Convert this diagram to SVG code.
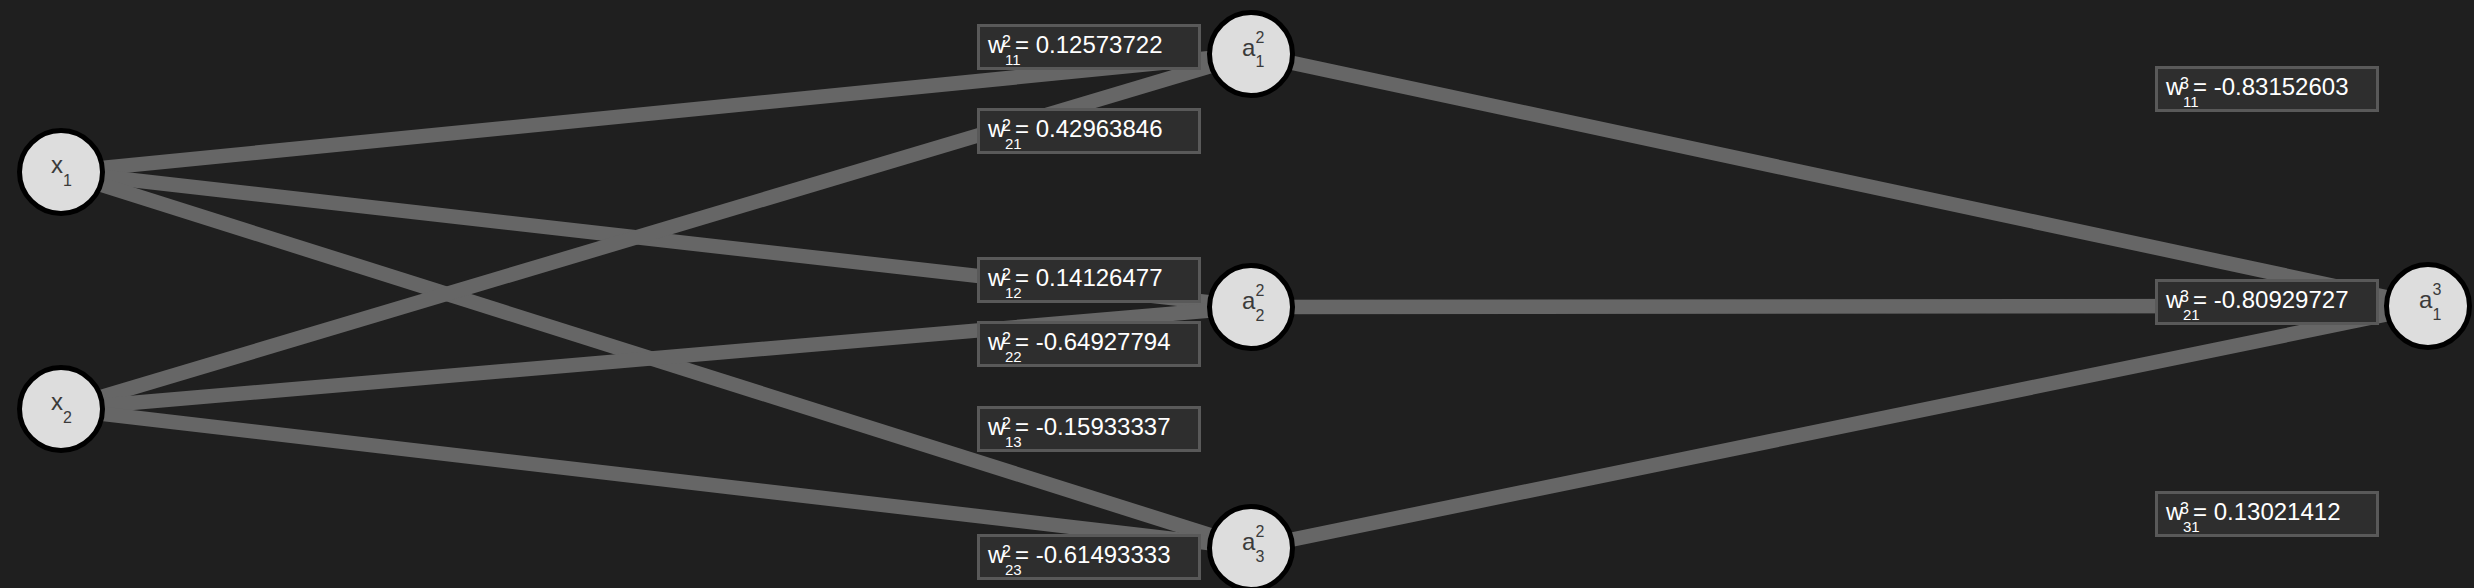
<svg xmlns="http://www.w3.org/2000/svg" width="2474" height="588" viewBox="0 0 2474 588">
<style>
.bg{fill:#1f1f1f}
.edge{stroke:#666666;stroke-width:14.5;fill:none}
.box{fill:#2e2e2e;stroke:#595959;stroke-width:3}
.lbl{font-family:"Liberation Sans",Arial,sans-serif;fill:#ffffff;font-size:24px}
.lbl .s{font-size:16px}
.lbl .b{font-size:15px}
.node{fill:#dddddd;stroke:#000000;stroke-width:5}
.nt{font-family:"Liberation Sans",Arial,sans-serif;fill:#3a3a3a;font-size:24px}
.nt .s{font-size:16px}
</style>
<rect class="bg" x="0" y="0" width="2474" height="588"/>
<g id="connectors">
<line class="edge" x1="61" y1="172" x2="1251" y2="54"/>
<line class="edge" x1="61" y1="172" x2="1251" y2="307"/>
<line class="edge" x1="61" y1="172" x2="1251" y2="548"/>
<line class="edge" x1="61" y1="409" x2="1251" y2="54"/>
<line class="edge" x1="61" y1="409" x2="1251" y2="307"/>
<line class="edge" x1="61" y1="409" x2="1251" y2="548"/>
<line class="edge" x1="1251" y1="54" x2="2428" y2="306"/>
<line class="edge" x1="1251" y1="307" x2="2428" y2="306"/>
<line class="edge" x1="1251" y1="548" x2="2428" y2="306"/>
</g>
<g id="labels">
<g id="w2_11"><rect class="box" x="978.5" y="25.5" width="221" height="43"/><text class="lbl"><tspan x="988" y="53">w</tspan><tspan class="s" x="1002" y="47">2</tspan><tspan class="b" x="1005" y="65">11</tspan><tspan x="1015" y="53">= 0.12573722</tspan></text></g>
<g id="w2_21"><rect class="box" x="978.5" y="109.5" width="221" height="43"/><text class="lbl"><tspan x="988" y="137">w</tspan><tspan class="s" x="1002" y="131">2</tspan><tspan class="b" x="1005" y="149">21</tspan><tspan x="1015" y="137">= 0.42963846</tspan></text></g>
<g id="w2_12"><rect class="box" x="978.5" y="258.5" width="221" height="43"/><text class="lbl"><tspan x="988" y="286">w</tspan><tspan class="s" x="1002" y="280">2</tspan><tspan class="b" x="1005" y="298">12</tspan><tspan x="1015" y="286">= 0.14126477</tspan></text></g>
<g id="w2_22"><rect class="box" x="978.5" y="322.5" width="221" height="43"/><text class="lbl"><tspan x="988" y="350">w</tspan><tspan class="s" x="1002" y="344">2</tspan><tspan class="b" x="1005" y="362">22</tspan><tspan x="1015" y="350">= -0.64927794</tspan></text></g>
<g id="w2_13"><rect class="box" x="978.5" y="407.5" width="221" height="43"/><text class="lbl"><tspan x="988" y="435">w</tspan><tspan class="s" x="1002" y="429">2</tspan><tspan class="b" x="1005" y="447">13</tspan><tspan x="1015" y="435">= -0.15933337</tspan></text></g>
<g id="w2_23"><rect class="box" x="978.5" y="535.5" width="221" height="43"/><text class="lbl"><tspan x="988" y="563">w</tspan><tspan class="s" x="1002" y="557">2</tspan><tspan class="b" x="1005" y="575">23</tspan><tspan x="1015" y="563">= -0.61493333</tspan></text></g>
<g id="w3_11"><rect class="box" x="2156.5" y="67.5" width="221" height="43"/><text class="lbl"><tspan x="2166" y="95">w</tspan><tspan class="s" x="2180" y="89">3</tspan><tspan class="b" x="2183" y="107">11</tspan><tspan x="2193" y="95">= -0.83152603</tspan></text></g>
<g id="w3_21"><rect class="box" x="2156.5" y="280.5" width="221" height="43"/><text class="lbl"><tspan x="2166" y="308">w</tspan><tspan class="s" x="2180" y="302">3</tspan><tspan class="b" x="2183" y="320">21</tspan><tspan x="2193" y="308">= -0.80929727</tspan></text></g>
<g id="w3_31"><rect class="box" x="2156.5" y="492.5" width="221" height="43"/><text class="lbl"><tspan x="2166" y="520">w</tspan><tspan class="s" x="2180" y="514">3</tspan><tspan class="b" x="2183" y="532">31</tspan><tspan x="2193" y="520">= 0.13021412</tspan></text></g>
</g>
<g id="x1"><circle class="node" cx="61" cy="172" r="41.5"/><text class="nt"><tspan x="51" y="173">x</tspan><tspan class="s" x="63" y="186">1</tspan></text></g>
<g id="x2"><circle class="node" cx="61" cy="409" r="41.5"/><text class="nt"><tspan x="51" y="410">x</tspan><tspan class="s" x="63" y="423">2</tspan></text></g>
<g id="a2_1"><circle class="node" cx="1251" cy="54" r="41.5"/><text class="nt"><tspan x="1242" y="56">a</tspan><tspan class="s" x="1255.5" y="43">2</tspan><tspan class="s" x="1255.5" y="67">1</tspan></text></g>
<g id="a2_2"><circle class="node" cx="1251" cy="307" r="41.5"/><text class="nt"><tspan x="1242" y="309">a</tspan><tspan class="s" x="1255.5" y="296">2</tspan><tspan class="s" x="1255.5" y="321">2</tspan></text></g>
<g id="a2_3"><circle class="node" cx="1251" cy="548" r="41.5"/><text class="nt"><tspan x="1242" y="550">a</tspan><tspan class="s" x="1255.5" y="537">2</tspan><tspan class="s" x="1255.5" y="562">3</tspan></text></g>
<g id="a3_1"><circle class="node" cx="2428" cy="306" r="41.5"/><text class="nt"><tspan x="2419" y="308">a</tspan><tspan class="s" x="2432.5" y="295">3</tspan><tspan class="s" x="2432.5" y="320">1</tspan></text></g>
</svg>
